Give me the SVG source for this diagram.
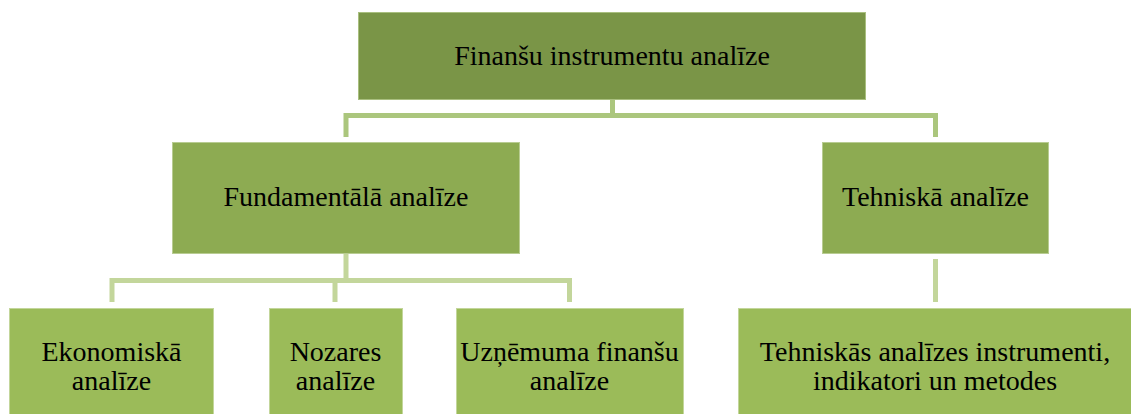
<svg xmlns="http://www.w3.org/2000/svg" width="1131" height="414" viewBox="0 0 1131 414">
<style>
text{font-family:"Liberation Serif","Times New Roman",serif;font-size:28px;fill:#000;text-anchor:middle}
.l1{fill:#7A9547;stroke:#A9BF7F;stroke-width:1}
.l2{fill:#8DAB52;stroke:#B8CC92;stroke-width:1}
.l3{fill:#9BBB59;stroke:#C3D69B;stroke-width:1}
.c1{fill:none;stroke:#ABC67D;stroke-width:5}
.c2{fill:none;stroke:#C3D69B;stroke-width:5}
</style>
<rect width="1131" height="414" fill="#fff"/>
<g id="connectors">
<path class="c1" d="M612.5 99 V115.5 M346 137 V115.5 H935.5 V137"/>
<path class="c2" d="M346 253 V280.5 M112 302 V280.5 H569.5 V302 M335 280.5 V302"/>
<path class="c2" d="M935.5 259 V302"/>
</g>
<g id="root"><rect class="l1" x="358.5" y="12.5" width="507" height="87"/><text x="612" y="65">Finanšu instrumentu analīze</text></g>
<g id="fundamentala"><rect class="l2" x="172.5" y="142.5" width="347" height="111"/><text x="346" y="206">Fundamentālā analīze</text></g>
<g id="tehniska"><rect class="l2" x="822.5" y="142.5" width="226" height="111"/><text x="935.5" y="206">Tehniskā analīze</text></g>
<g id="ekonomiska"><rect class="l3" x="9.5" y="308.5" width="204" height="120"/><text x="111.5" y="361">Ekonomiskā</text><text x="111.5" y="390">analīze</text></g>
<g id="nozares"><rect class="l3" x="269.5" y="308.5" width="133" height="120"/><text x="335.5" y="361">Nozares</text><text x="335.5" y="390">analīze</text></g>
<g id="uznemuma"><rect class="l3" x="456.5" y="308.5" width="227" height="120"/><text x="569.5" y="361">Uzņēmuma finanšu</text><text x="569.5" y="390">analīze</text></g>
<g id="instrumenti"><rect class="l3" x="738.5" y="308.5" width="400" height="120"/><text x="935" y="361">Tehniskās analīzes instrumenti,</text><text x="935" y="390">indikatori un metodes</text></g>
</svg>
